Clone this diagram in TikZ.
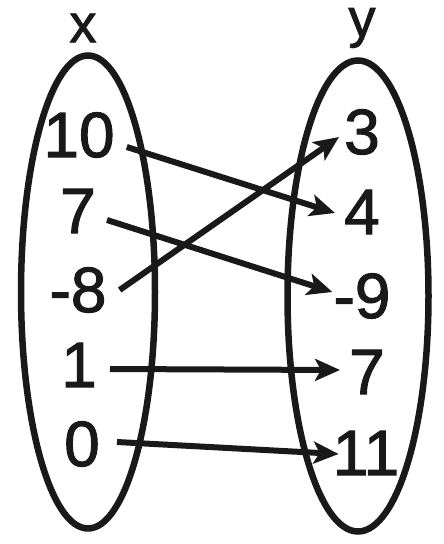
\documentclass[tikz,border=0pt]{standalone}
\usepackage{fontspec}
\setmainfont{Liberation Sans}
\newfontfamily\setfont{Liberation Sans}[FakeBold=1.6]
\usetikzlibrary{arrows.meta,positioning,shapes.geometric}
\tikzset{
  setoval/.style={draw=black!90, ellipse, line width=6.5pt, inner sep=0pt,
                  minimum width=134pt, minimum height=473pt},
  setname/.style={text=black!90, inner sep=0pt, font=\setfont\fontsize{54}{54}\selectfont},
  numlabel/.style={text=black!90, inner sep=3pt, font=\setfont\fontsize{64}{64}\selectfont},
  maparr/.style={-{Stealth[length=25pt, width=22pt, inset=6pt]}, line width=6pt, color=black!90}}
\begin{document}
\begin{tikzpicture}[x=1pt, y=-1pt]
  \useasboundingbox (0,0) rectangle (444,544);
  % the two sets
  \node[setoval] (xoval) at (88,292) {};
  \node[setoval, minimum width=141pt, minimum height=471pt] (yoval) at (358,296) {};
  \node[setname] (xname) at (83,28) {x};
  \node[setname] (yname) at (362,28) {y};
  % domain
  \node[numlabel] (x10) at (79,135) {10};
  \node[numlabel] (x7) at (78,211) {7};
  \node[numlabel] (xm8) at (78,290) {-8};
  \node[numlabel] (x1) at (79,365) {1};
  \node[numlabel] (x0) at (82,444) {0};
  % range
  \node[numlabel] (y3) at (362,132) {3};
  \node[numlabel] (y4) at (362,212) {4};
  \node[numlabel] (ym9) at (362,296) {-9};
  \node[numlabel] (y7) at (367,372) {7};
  \node[numlabel] (y11) at (366,453) {11};
  % the mapping
  \draw[maparr] ([shift={(9,12)}]x10.east) -- ([shift={(-6,1)}]y4.west);
  \draw[maparr] ([shift={(8,9)}]x7.east) -- ([shift={(2,-4)}]ym9.west);
  \draw[maparr] ([shift={(10,0)}]xm8.east) -- ([shift={(-2,5)}]y3.west);
  \draw[maparr] ([shift={(10,4)}]x1.east) -- ([shift={(-6,-2)}]y7.west);
  \draw[maparr] ([shift={(14,-2)}]x0.east) -- ([shift={(9,1)}]y11.west);
\end{tikzpicture}
\end{document}
